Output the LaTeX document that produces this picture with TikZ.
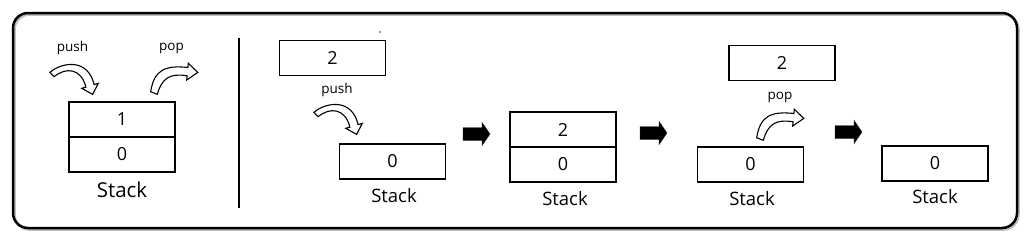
\documentclass[tikz,border=0pt]{standalone}
\usepackage{fontspec}
\setmainfont{Open Sans}
\begin{document}
\begin{tikzpicture}[x=1pt,y=-1pt,
  cell/.style={draw=black,line width=1.2pt,minimum width=106pt,minimum height=35pt,inner sep=0pt,font=\fontsize{18}{20}\selectfont},
  lbl/.style={anchor=base,inner sep=0pt,font=\fontsize{18.5}{20}\selectfont},
  biglbl/.style={anchor=base,inner sep=0pt,font=\fontsize{20.5}{22}\selectfont},
  oplbl/.style={inner sep=0pt,font=\fontsize{13.5}{15}\selectfont},
  curvearr/.style={draw=black,fill=white,line width=1.1pt,line join=miter},
  blockarr/.style={fill=black,draw=black!85,line width=0.4pt},
  pusharr/.pic={
    \path[curvearr] (50,72.3) .. controls (62,62) and (88,58) .. (94.1,84.6)
      -- (98.3,83.3) -- (92.6,94.4) -- (81.7,88.3) -- (85.9,87.1)
      .. controls (81,68) and (66,67) .. (54,76.7) -- cycle;
  },
  poparr/.pic={
    \path[curvearr] (150.7,91.7) .. controls (154,70) and (165,65) .. (187.9,67.5)
      -- (188.3,63.3) -- (197.8,72.4) -- (186.7,80) -- (187.1,75.8)
      .. controls (170,73) and (162,78) .. (157.3,94.3) -- cycle;
  },
  nextarr/.pic={
    \path[blockarr] (0,-6.3) -- (19,-6.3) -- (19,-11.7) -- (27,0) -- (19,11.7) -- (19,6.3) -- (0,6.3) -- cycle;
  }
]
\useasboundingbox (0,0) rectangle (1029,239);
% frame
\draw[black!25,line width=2.5pt,rounded corners=15pt] (14.5,14.5) rectangle (1018.5,229.5);
\draw[black,line width=2.5pt,rounded corners=15pt] (13,13) rectangle (1017,228);
\coordinate (dtop) at (239,38);
\coordinate (dbot) at (239,208);
\draw[line width=2.3pt] (dtop) -- (dbot);
\fill[red!80!black] (380,32) circle (0.8pt);

% left panel
\node[oplbl] (pushA) at (72.5,48) {push};
\node[oplbl] (popA) at (171.5,48) {pop};
\pic at (0,0) {pusharr};
\pic at (0,0) {poparr};
\node[cell] (la) at (122,119.5) {1};
\node[cell] (lb) at (122,154.5) {0};
\node[biglbl] (lstack) at (122,197) {Stack};

% panel 2
\node[cell] (p2top) at (332.5,58) {2};
\node[oplbl] (pushB) at (337,90) {push};
\pic at (264,40) {pusharr};
\node[cell] (p2a) at (392.5,161.5) {0};
\node[lbl] (p2stack) at (394,202) {Stack};

\pic at (463,134) {nextarr};

% panel 3
\node[cell] (p3a) at (563,129.5) {2};
\node[cell] (p3b) at (563,164.5) {0};
\node[lbl] (p3stack) at (565,205) {Stack};

\pic at (640,133) {nextarr};

% panel 4
\node[cell] (p4top) at (782,63) {2};
\node[oplbl] (popB) at (780,97) {pop};
\pic at (606,46) {poparr};
\node[cell] (p4a) at (750.5,164.5) {0};
\node[lbl] (p4stack) at (752,205) {Stack};

\pic at (835,132) {nextarr};

% panel 5
\node[cell] (p5a) at (935,163.5) {0};
\node[lbl] (p5stack) at (935,203) {Stack};
\end{tikzpicture}
\end{document}
